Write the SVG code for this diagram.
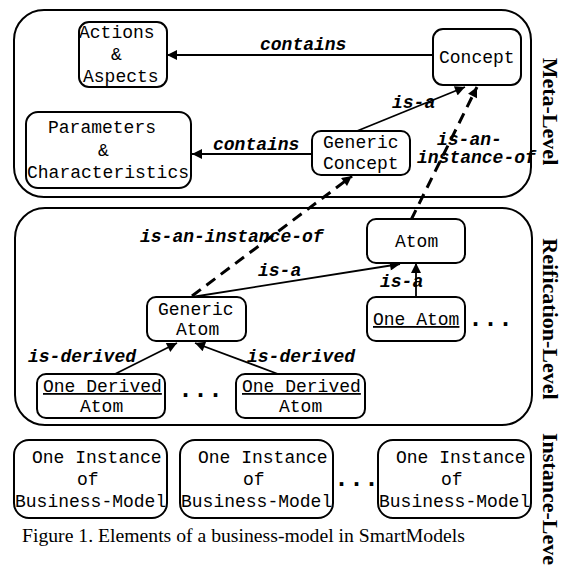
<svg xmlns="http://www.w3.org/2000/svg" width="567" height="565" viewBox="0 0 567 565">
<defs>
<style>
.cont{fill:none;stroke:#000;stroke-width:2}
.box{fill:#fff;stroke:#000;stroke-width:2}
.t{font-family:"Liberation Mono","Courier New",monospace;font-size:18px;fill:#000}
.lbl{font-family:"Liberation Mono","Courier New",monospace;font-size:18px;font-weight:bold;font-style:italic;fill:#000}
.dots{font-family:"Liberation Mono","Courier New",monospace;font-size:25px;font-weight:bold;fill:#000}
.side{font-family:"Liberation Serif","Times New Roman",serif;font-size:22px;font-weight:bold;fill:#000}
.cap{font-family:"Liberation Serif","Times New Roman",serif;font-size:19.7px;fill:#000}
.u{text-decoration:underline}
.ln{fill:none;stroke:#000;stroke-width:1.8}
.dash{fill:none;stroke:#000;stroke-width:3;stroke-dasharray:11 7}
</style>
<marker id="ah" viewBox="0 0 10 10" refX="10" refY="5" markerWidth="12" markerHeight="10" markerUnits="userSpaceOnUse" orient="auto">
<path d="M0,0 L10,5 L0,10 z" fill="#000"/>
</marker>
<marker id="ahd" viewBox="0 0 10 10" refX="10" refY="5" markerWidth="12" markerHeight="10" markerUnits="userSpaceOnUse" orient="auto">
<path d="M0,0 L10,5 L0,10 z" fill="#000"/>
</marker>
</defs>

<g id="meta-level">
<rect class="cont" x="14" y="10" width="517" height="187" rx="30"/>
<text class="side" transform="translate(543,111.5) rotate(90)" text-anchor="middle">Meta-Level</text>
</g>
<g id="reification-level">
<rect class="cont" x="15" y="208" width="517" height="217" rx="30"/>
<text class="side" transform="translate(543,319) rotate(90)" text-anchor="middle">Reification-Level</text>
</g>
<g id="instance-level">
<text class="side" transform="translate(543,433) rotate(90)">Instance-Level</text>
</g>

<g id="connectors">
<line class="ln" x1="433" y1="55" x2="167" y2="55" marker-end="url(#ah)"/>
<line class="ln" x1="312" y1="154" x2="192" y2="154" marker-end="url(#ah)"/>
<line class="ln" x1="357" y1="131" x2="465" y2="87" marker-end="url(#ah)"/>
<line class="dash" x1="411" y1="220" x2="477" y2="87" marker-end="url(#ahd)"/>
<line class="dash" x1="192" y1="296" x2="352" y2="176" marker-end="url(#ahd)"/>
<line class="ln" x1="192" y1="297" x2="400" y2="264" marker-end="url(#ah)"/>
<line class="ln" x1="416" y1="297" x2="416" y2="263" marker-end="url(#ah)"/>
<line class="ln" x1="115" y1="374" x2="177" y2="343" marker-end="url(#ah)"/>
<line class="ln" x1="278" y1="374" x2="195" y2="343" marker-end="url(#ah)"/>
<text class="lbl" x="260" y="50">contains</text>
<text class="lbl" x="213" y="150">contains</text>
<text class="lbl" x="392" y="108">is-a</text>
<text class="lbl" x="437" y="145">is-an-</text>
<text class="lbl" x="417" y="163">instance-of</text>
<text class="lbl" x="140" y="242">is-an-instance-of</text>
<text class="lbl" x="258" y="276">is-a</text>
<text class="lbl" x="380" y="287">is-a</text>
<text class="lbl" x="28" y="362">is-derived</text>
<text class="lbl" x="247" y="362">is-derived</text>
</g>

<g id="actions-aspects">
<rect class="box" x="79" y="22" width="88" height="65" rx="10"/>
<text class="t" x="79" y="38">Actions</text>
<text class="t" x="111" y="60">&amp;</text>
<text class="t" x="83" y="82">Aspects</text>
</g>
<g id="parameters-characteristics">
<rect class="box" x="26" y="112" width="165" height="76" rx="12"/>
<text class="t" x="48" y="133">Parameters</text>
<text class="t" x="98" y="156">&amp;</text>
<text class="t" x="27" y="178">Characteristics</text>
</g>
<g id="concept">
<rect class="box" x="433" y="29" width="88" height="56" rx="10"/>
<text class="t" x="439" y="63">Concept</text>
</g>
<g id="generic-concept">
<rect class="box" x="312" y="131" width="98" height="44" rx="9"/>
<text class="t" x="323" y="148">Generic</text>
<text class="t" x="323" y="169">Concept</text>
</g>
<g id="atom">
<rect class="box" x="367" y="219" width="98" height="44" rx="9"/>
<text class="t" x="395" y="247">Atom</text>
</g>
<g id="generic-atom">
<rect class="box" x="147" y="297" width="99" height="44" rx="9"/>
<text class="t" x="158" y="315">Generic</text>
<text class="t" x="176" y="335">Atom</text>
</g>
<g id="one-atom">
<rect class="box" x="367" y="297" width="98" height="44" rx="9"/>
<text class="t u" x="373" y="325">One Atom</text>
<text class="dots" x="468" y="326">...</text>
</g>
<g id="one-derived-atom-1">
<rect class="box" x="37" y="374" width="128" height="44" rx="9"/>
<text class="t u" x="43" y="392">One Derived</text>
<text class="t" x="80" y="412">Atom</text>
</g>
<g id="derived-ellipsis">
<text class="dots" x="178" y="397">...</text>
</g>
<g id="one-derived-atom-2">
<rect class="box" x="236" y="374" width="129" height="44" rx="9"/>
<text class="t u" x="242" y="392">One Derived</text>
<text class="t" x="279" y="412">Atom</text>
</g>

<g id="instance-1">
<rect class="box" x="14" y="440" width="153" height="78" rx="15"/>
<text class="t" x="32" y="463">One Instance</text>
<text class="t" x="77" y="485">of</text>
<text class="t" x="15" y="507">Business-Model</text>
</g>
<g id="instance-2">
<rect class="box" x="180" y="440" width="153" height="78" rx="15"/>
<text class="t" x="198" y="463">One Instance</text>
<text class="t" x="243" y="485">of</text>
<text class="t" x="181" y="507">Business-Model</text>
</g>
<g id="instance-ellipsis">
<text class="dots" x="334" y="486">...</text>
</g>
<g id="instance-3">
<rect class="box" x="378" y="440" width="153" height="78" rx="15"/>
<text class="t" x="396" y="463">One Instance</text>
<text class="t" x="441" y="485">of</text>
<text class="t" x="379" y="507">Business-Model</text>
</g>

<text class="cap" x="22" y="542">Figure 1. Elements of a business-model in SmartModels</text>
</svg>
